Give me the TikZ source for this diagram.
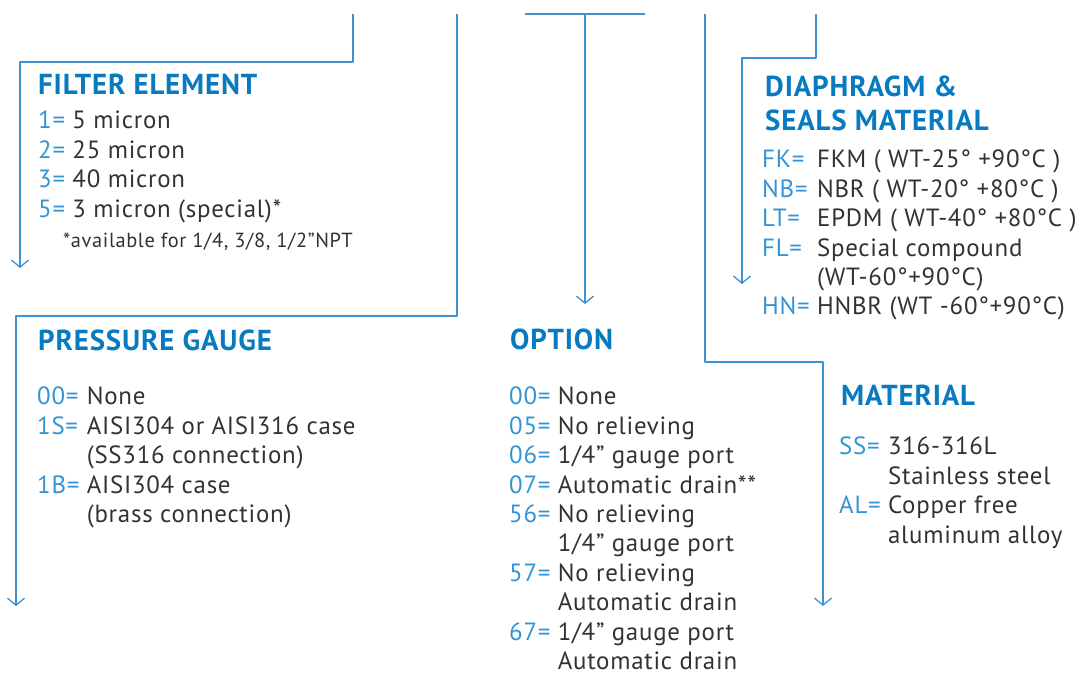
\documentclass[tikz,border=0pt]{standalone}
\usepackage{fontspec}
\setmainfont{PT Sans}[LetterSpace=3.0]
\usetikzlibrary{arrows.meta}
\definecolor{headblue}{RGB}{8,122,192}
\definecolor{codeblue}{RGB}{50,148,214}
\definecolor{lineblue}{RGB}{60,146,210}
\definecolor{textgray}{RGB}{50,50,50}
\newcommand{\cd}[1]{\textcolor{codeblue}{#1}}

\begin{document}
\begin{tikzpicture}[>={Straight Barb[length=7bp,width=17bp]},line join=bevel,
  head/.style={anchor=base west,inner sep=0pt,text=headblue,font=\fontsize{29}{34.5}\selectfont\bfseries},
  list/.style={anchor=base west,inner sep=0pt,text=textgray,font=\fontsize{25}{29.5}\selectfont},
  wire/.style={lineblue,line width=1.3bp}]
\useasboundingbox (0bp,0bp) rectangle (1090bp,675bp);
%%
\node (node_filter) at (38bp,580bp) [head] {FILTER ELEMENT};
\node (node_filter_list) at (38bp,546bp) [list] {\begin{tabular}[t]{@{}l@{ }l@{}}
  \cd{1=} & 5 micron\\ \cd{2=} & 25 micron\\ \cd{3=} & 40 micron\\ \cd{5=} & 3 micron (special)*
  \end{tabular}};
\node (node_filter_note) at (63bp,427bp) [list,font=\fontsize{20.5}{24}\selectfont] {*available for 1/4, 3/8, 1/2''NPT};
%
\node (node_gauge) at (38bp,324bp) [head] {PRESSURE GAUGE};
\node (node_gauge_list) at (37bp,270bp) [list] {\begin{tabular}[t]{@{}l@{ }l@{}}
  \cd{00=} & None\\ \cd{1S=} & AISI304 or AISI316 case\\ & (SS316 connection)\\
  \cd{1B=} & AISI304 case\\ & (brass connection)
  \end{tabular}};
%
\node (node_option) at (510bp,325bp) [head] {OPTION};
\node (node_option_list) at (509bp,270bp) [list] {\begin{tabular}[t]{@{}l@{ }l@{}}
  \cd{00=} & None\\ \cd{05=} & No relieving\\ \cd{06=} & 1/4'' gauge port\\ \cd{07=} & Automatic drain**\\
  \cd{56=} & No relieving\\ & 1/4'' gauge port\\ \cd{57=} & No relieving\\ & Automatic drain\\
  \cd{67=} & 1/4'' gauge port\\ & Automatic drain
  \end{tabular}};
%
\node (node_material) at (841bp,269bp) [head] {MATERIAL};
\node (node_material_list) at (839bp,220bp) [list] {\begin{tabular}[t]{@{}l@{ }l@{}}
  \cd{SS=} & 316-316L\\ & Stainless steel\\ \cd{AL=} & Copper free\\ & aluminum alloy
  \end{tabular}};
%
\node (node_seals) at (765bp,578bp) [head] {\begin{tabular}[t]{@{}l@{}}DIAPHRAGM \&\\[-0.5pt] SEALS MATERIAL\end{tabular}};
\node (node_seals_list) at (762bp,507bp) [list] {\begin{tabular}[t]{@{}l@{ }l@{}}
  \cd{FK=} & FKM ( WT-25° +90°C )\\ \cd{NB=} & NBR ( WT-20° +80°C )\\ \cd{LT=} & EPDM ( WT-40° +80°C )\\
  \cd{FL=} & Special compound\\ & (WT-60°+90°C)\\ \cd{HN=} & HNBR (WT -60°+90°C)
  \end{tabular}};
%
\coordinate (filter_top) at (353bp,661bp);
\coordinate (filter_tip) at (20bp,407bp);
\coordinate (gauge_top) at (457bp,661bp);
\coordinate (gauge_tip) at (16bp,69bp);
\coordinate (option_left) at (525bp,661bp);
\coordinate (option_right) at (645bp,661bp);
\coordinate (option_top) at (585bp,661bp);
\coordinate (option_tip) at (585bp,371bp);
\coordinate (material_top) at (705bp,661bp);
\coordinate (material_tip) at (823bp,69bp);
\coordinate (seals_top) at (816bp,661bp);
\coordinate (seals_tip) at (742bp,391bp);
%
\draw [wire,->] (filter_top) -- ++(0bp,-48bp) -| (filter_tip);
\draw [wire,->] (gauge_top) -- ++(0bp,-302bp) -| (gauge_tip);
\draw [wire] (option_left) -- (option_right);
\draw [wire,->] (option_top) -- (option_tip);
\draw [wire,->] (material_top) -- ++(0bp,-348bp) -| (material_tip);
\draw [wire,->] (seals_top) -- ++(0bp,-44bp) -| (seals_tip);
%
\end{tikzpicture}
\end{document}
